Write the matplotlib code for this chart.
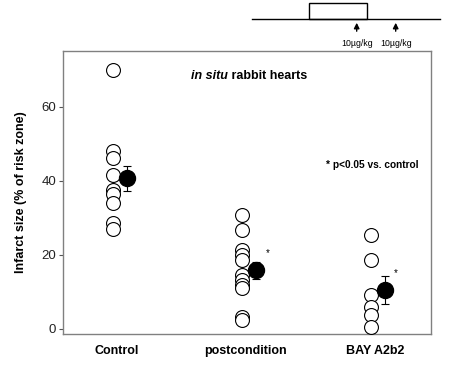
import numpy as np
import matplotlib.pyplot as plt

plt.rcParams['font.family'] = ['Liberation Sans', 'DejaVu Sans']

groups = ['Control', 'postcondition', 'BAY A2b2']
control = [70, 48, 46, 41.5, 37.5, 36.4, 34, 28.5, 27]
postcond = [30.7, 26.6, 21.2, 19.9, 18.5, 14.4, 13.1, 11.7, 10.9, 3.1, 2.2]
bay = [25.3, 18.5, 9, 5.9, 3.6, 0.4]
means = [40.6, 15.8, 10.4]
sems = [3.3, 2.3, 3.8]
sig = [False, True, True]

fig = plt.figure(figsize=(4.58, 3.65), dpi=100)
W, H = 458, 365
ax = fig.add_axes([63 / W, 1 - 333.5 / H, (431 - 63) / W, (333.5 - 50.5) / H])

for i, vals in enumerate([control, postcond, bay]):
    x = np.full(len(vals), i + 1.0)
    ax.plot(x, vals, 'o', ms=10, mfc='white', mec='black', mew=0.8, zorder=3)
    ax.errorbar(i + 1.11, means[i], yerr=sems[i], fmt='o', ms=11.5, color='black',
                ecolor='black', elinewidth=0.8, capsize=3, capthick=0.8, zorder=4)
    if sig[i]:
        ax.text(i + 1.2, means[i] + 4.5, '*', fontsize=7, ha='center', va='center')

ax.set_xlim(0.61, 3.47)
ax.set_ylim(-1.35, 75.2)
ax.set_yticks([0, 20, 40, 60])
ax.set_xticks([1.03, 2.03, 3.04])
ax.set_xticklabels(groups, fontweight='bold', fontsize=9)
ax.tick_params(axis='x', length=0, pad=8)
ax.tick_params(axis='y', length=3, width=0.8, color='#555555', labelsize=9.5,
               labelcolor='#222222', pad=2)
for s in ax.spines.values():
    s.set_color('#808080')
    s.set_linewidth(1)
ax.set_ylabel('Infarct size (% of risk zone)', fontweight='bold', fontsize=9, labelpad=10)

# "in situ" italic, rest upright
t1 = ax.text(0.348, 0.91, 'in situ', transform=ax.transAxes, fontsize=9,
             fontweight='bold', fontstyle='italic', ha='left', va='center')
ax.annotate(' rabbit hearts', xy=(1, 0.5), xycoords=t1, fontsize=9,
            fontweight='bold', ha='left', va='center')
ax.text(0.965, 0.597, '* p<0.05 vs. control', transform=ax.transAxes, fontsize=7.3,
        fontweight='bold', ha='right', va='center')

# protocol schematic above the plot
top = fig.add_axes([0, 0, 1, 1])
top.set_xlim(0, W)
top.set_ylim(H, 0)
top.axis('off')
top.plot([252, 440], [19.3, 19.3], color='black', lw=1)
top.add_patch(plt.Rectangle((309, 2.7), 58, 16.6, fill=False, ec='black', lw=1))
for xa in [356.7, 395.7]:
    top.annotate('', xy=(xa, 20), xytext=(xa, 34),
                 arrowprops=dict(arrowstyle='-|>', color='black', lw=1, mutation_scale=8))
    top.text(xa, 43, '10\u00b5g/kg', fontsize=6.3, ha='center', va='center')

fig.savefig('out.png', dpi=100)
